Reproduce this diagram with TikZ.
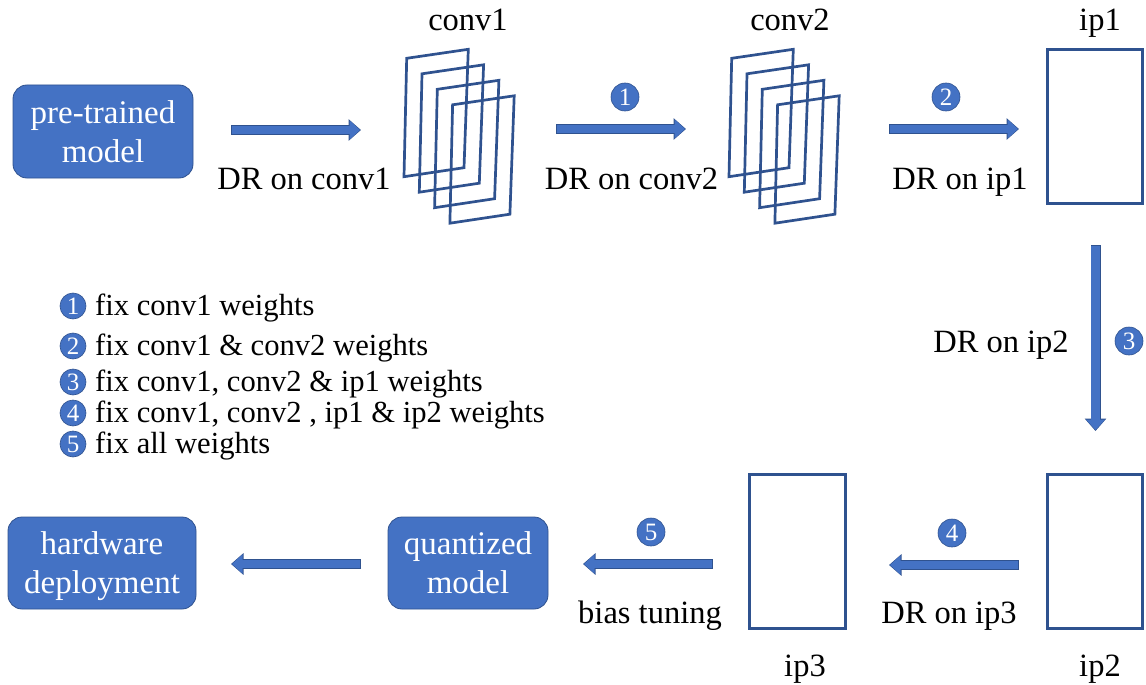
\documentclass[tikz,border=0pt]{standalone}
\usepackage{fontspec}
\setmainfont{Liberation Serif}
\usetikzlibrary{arrows.meta}
\definecolor{accent}{RGB}{68,114,196}
\definecolor{edge}{RGB}{47,82,143}
\tikzset{
  stage/.style={draw=edge, line width=0.8pt, fill=accent, rounded corners=14pt,
    text=white, font=\fontsize{33}{39}\selectfont, align=center, inner sep=0pt,
    text depth=0pt},
  layer/.style={draw=edge, line width=2.8pt, inner sep=0pt},
  fmap/.style={draw=edge, line width=2.7pt, line join=miter},
  flowrim/.style={draw=edge, line width=10pt, -{Triangle[length=12.5pt,width=21pt]}},
  flowbody/.style={draw=accent, line width=8.4pt, shorten <=0.8pt, shorten >=1pt,
    -{Triangle[length=10.5pt,width=18.5pt]}},
  badge/.style={circle, fill=accent, draw=edge, line width=0.6pt, text=white,
    inner sep=0pt, minimum size=28pt, font=\fontsize{25}{25}\selectfont},
  lbl/.style={font=\fontsize{32.5}{39}\selectfont, inner sep=0pt, anchor=base},
  legend/.style={font=\fontsize{30.6}{36}\selectfont, inner sep=0pt, anchor=base west},
}
% block arrow: dark rim underneath, blue body on top
\newcommand\flowarrow[2]{%
  \draw[flowrim] (#1) -- (#2);
  \draw[flowbody] (#1) -- (#2);}
% stack of four slanted feature maps, top-left corner of the first one at #1
\newcommand\fmapstack[1]{%
  \begin{scope}[shift={#1}]
    \foreach \k in {0,1,2,3}
      \draw[fmap] (15.3*\k,15.5*\k) -- ++(61.6,-9) -- ++(-4.3,118.4) -- ++(-60,9) -- cycle;
  \end{scope}}
\begin{document}
\begin{tikzpicture}[x=1pt,y=-1pt]
\useasboundingbox (0,0) rectangle (1146,685);

% ---- top row ----
\node[stage, minimum width=180pt, minimum height=93pt] (pre) at (103,131.5) {pre-trained\\model};

\fmapstack{(406.7,58.3)}
\coordinate (conv1) at (459,136);
\node[lbl] (conv1lbl) at (468,31) {conv1};

\fmapstack{(731.7,58.3)}
\coordinate (conv2) at (784,136);
\node[lbl] (conv2lbl) at (790,31) {conv2};

\node[layer, minimum width=95pt, minimum height=154pt] (ip1) at (1095,126.5) {};
\node[lbl] (ip1lbl) at (1100,31) {ip1};

\coordinate (a1s) at (231,130); \coordinate (a1e) at (361,130);
\flowarrow{a1s}{a1e}
\node[lbl] (d1) at (304,189) {DR on conv1};

\coordinate (a2s) at (556,129); \coordinate (a2e) at (686,129);
\flowarrow{a2s}{a2e}
\node[badge] (b1) at (625,97) {1};
\node[lbl] (d2) at (631.5,189) {DR on conv2};

\coordinate (a3s) at (889,129); \coordinate (a3e) at (1019,129);
\flowarrow{a3s}{a3e}
\node[badge] (b2) at (946,97) {2};
\node[lbl] (d3) at (960,189) {DR on ip1};

% ---- right column ----
\coordinate (a4s) at (1095.5,245); \coordinate (a4e) at (1095.5,431);
\flowarrow{a4s}{a4e}
\node[badge] (b3) at (1129,341) {3};
\node[lbl] (d4) at (1001,352) {DR on ip2};

% ---- bottom row ----
\node[layer, minimum width=95pt, minimum height=154pt] (ip2) at (1095,551.5) {};
\node[lbl] (ip2lbl) at (1100,676) {ip2};

\node[layer, minimum width=96pt, minimum height=154pt] (ip3) at (797.5,551.5) {};
\node[lbl] (ip3lbl) at (805,676) {ip3};

\coordinate (a5s) at (1019,565); \coordinate (a5e) at (889,565);
\flowarrow{a5s}{a5e}
\node[badge] (b4) at (952,533) {4};
\node[lbl] (d5) at (949,623) {DR on ip3};

\coordinate (a6s) at (713,564); \coordinate (a6e) at (583,564);
\flowarrow{a6s}{a6e}
\node[badge] (b5) at (651,532) {5};
\node[lbl] (d6) at (650,623) {bias tuning};

\node[stage, minimum width=160pt, minimum height=92pt] (quant) at (468,563) {quantized\\model};

\coordinate (a7s) at (361,564); \coordinate (a7e) at (231,564);
\flowarrow{a7s}{a7e}

\node[stage, minimum width=188pt, minimum height=92pt] (hw) at (102,563) {hardware\\deployment};

% ---- legend ----
\node[badge, minimum size=26pt] (l1) at (73,306) {1};
\node[legend] (t1) at (95,315) {fix conv1 weights};
\node[badge, minimum size=26pt] (l2) at (73,346) {2};
\node[legend] (t2) at (95,355) {fix conv1 \& conv2 weights};
\node[badge, minimum size=26pt] (l3) at (73,382) {3};
\node[legend] (t3) at (95,391) {fix conv1, conv2 \& ip1 weights};
\node[badge, minimum size=26pt] (l4) at (73,413) {4};
\node[legend] (t4) at (95,422) {fix conv1, conv2 , ip1 \& ip2 weights};
\node[badge, minimum size=26pt] (l5) at (73,444) {5};
\node[legend] (t5) at (95,453) {fix all weights};
\end{tikzpicture}
\end{document}
